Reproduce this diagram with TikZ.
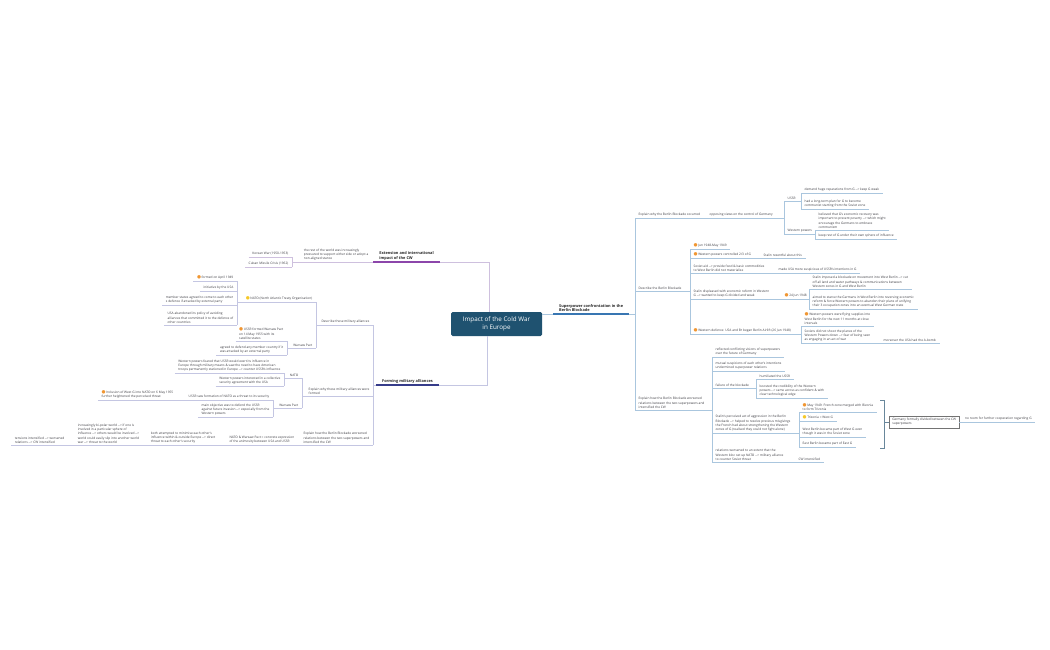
\documentclass[tikz,border=0pt]{standalone}
\usepackage{fontspec}
\setmainfont{Open Sans}
\newfontfamily\symf{DejaVu Sans}
\usepackage{tikz}

\definecolor{rootc}{RGB}{31,82,112}
\definecolor{txt}{RGB}{60,60,66}
\definecolor{blu}{RGB}{56,118,178}
\definecolor{bluln}{RGB}{170,198,222}
\definecolor{pur}{RGB}{140,70,170}
\definecolor{purln}{RGB}{206,192,222}
\definecolor{nav}{RGB}{54,60,138}
\definecolor{navln}{RGB}{196,198,226}
\definecolor{mkor}{RGB}{240,150,50}
\definecolor{mkye}{RGB}{245,200,40}
\definecolor{sumc}{RGB}{105,135,155}

\newcommand{\dto}{-{}->}
\newcommand{\mko}{{\symf\fontsize{4.6}{4}\selectfont\textcolor{mkor}{●}}\,}
\newcommand{\mky}{{\symf\fontsize{4.6}{4}\selectfont\textcolor{mkye}{●}}\,}

\begin{document}
\begin{tikzpicture}[x=1pt,y=-1pt,
    every node/.style={font=\fontsize{3.2}{4.3}\selectfont, text=txt, align=left, inner xsep=3.5pt, inner ysep=1.3pt},
    rt/.style={anchor=south west, append after command={(\tikzlastnode.south west) edge[#1] (\tikzlastnode.south east)}},
    lt/.style={anchor=south east, append after command={(\tikzlastnode.south west) edge[#1] (\tikzlastnode.south east)}},
    bl/.style={draw=bluln, line width=0.6pt},
    pu/.style={draw=purln, line width=0.6pt},
    nv/.style={draw=navln, line width=0.6pt},
    hbl/.style={draw=blu, line width=1.3pt},
    hpu/.style={draw=pur, line width=1.3pt},
    hnv/.style={draw=nav, line width=1.3pt},
    head/.style={font=\fontsize{3.9}{4.9}\selectfont\bfseries, text=black!85, inner xsep=6pt, inner ysep=1.8pt},
    root/.style={fill=rootc, text=white, font=\fontsize{6.3}{8.2}\selectfont, align=center, minimum width=91pt, minimum height=24pt, rounded corners=1.5pt, inner sep=2pt},
    sumbox/.style={draw=black!55, fill=white, line width=0.5pt, inner xsep=3pt, inner ysep=2pt, anchor=west}]
    \useasboundingbox (0,0) rectangle (1050,650);

    % centre
    \node[root] (root) at (496.5,324) {Impact of the Cold War\\in Europe};

    % main branches
    \node[head, rt=hbl] (berlin) at (553,314) {Superpower confrontation in the\\Berlin Blockade};
    \node[head, lt=hpu] (ext) at (440,262) {Extension and international\\impact of the CW};
    \node[head, lt=hnv] (forming) at (439,385) {Forming military alliances};
    \draw[bl] (root.east |- berlin.south west) -- (berlin.south west);
    \draw[pu] ([xshift=-7pt]root.north) |- (ext.south east);
    \draw[nv] ([xshift=-9pt]root.south) |- (forming.south east);

    % Berlin Blockade: why
    \node[rt=bl] (why) at (635,218) {Explain why the Berlin Blockade occurred};
    \node[rt=bl] (opp) at (706,218) {opposing views on the control of Germany};
    \node[rt=bl] (ussr) at (784,201) {USSR};
    \node[rt=bl] (rep) at (801,193) {demand huge reparations from G \dto{} keep G weak};
    \node[rt=bl] (plan) at (801,209) {had a long-term plan for G to become\\communist starting from the Soviet zone};
    \node[rt=bl] (west) at (784,234) {Western powers};
    \node[rt=bl] (recov) at (815,230) {believed that G's economic recovery was\\important to prevent poverty \dto{} which might\\encourage the Germans to embrace\\communism};
    \node[rt=bl] (rest) at (815,239) {keep rest of G under their own sphere of influence};
    \draw[bl] (berlin.south east) -| (why.south west);
    \draw[bl] (why.south east) -| (opp.south west);
    \draw[bl] (opp.south east) -| (ussr.south west);
    \draw[bl] (opp.south east) -| (west.south west);
    \draw[bl] (ussr.south east) -| (rep.south west);
    \draw[bl] (ussr.south east) -| (plan.south west);
    \draw[bl] (west.south east) -| (recov.south west);
    \draw[bl] (west.south east) -| (rest.south west);

    % Berlin Blockade: describe
    \node[rt=bl] (desc) at (635,291) {Describe the Berlin Blockade};
    \node[rt=bl] (jun) at (690,249) {\mko Jun 1948-May 1949};
    \node[rt=bl] (ctrl) at (690,258) {\mko Western powers controlled 2/3 of G};
    \node[rt=bl] (resent) at (760,258) {Stalin resentful about this};
    \node[rt=bl] (aid) at (690,273) {Soviet aid \dto{} provide food \& basic commodities\\to West Berlin did not materialise};
    \node[rt=bl] (susp) at (775,273) {made USA more suspicious of USSR's intentions in G};
    \node[rt=bl] (displ) at (690,299) {Stalin displeased with economic reform in Western\\G \dto{} wanted to keep G divided and weak};
    \node[rt=bl] (jun24) at (781,299) {\mko 24 Jun 1948};
    \node[rt=bl] (block) at (809,289) {Stalin imposed a blockade on movement into West Berlin \dto{} cut\\off all land and water pathways \& communications between\\Western zones in G and West Berlin};
    \node[rt=bl] (starve) at (809,309) {aimed to starve the Germans in West Berlin into reversing economic\\reform \& force Western powers to abandon their plans of unifying\\their 3 occupation zones into an eventual West German state};
    \node[rt=bl] (airlift) at (690,334) {\mko Western defence: USA and Br began Berlin Airlift (26 Jun 1948)};
    \node[rt=bl] (fly) at (801,326) {\mko Western powers were flying supplies into\\West Berlin for the next 11 months at close\\intervals};
    \node[rt=bl] (shoot) at (801,343) {Soviets did not shoot the planes of the\\Western Powers down \dto{} fear of being seen\\as engaging in an act of war};
    \node[rt=bl] (bomb) at (880,343) {moreover the USA had the A-bomb};
    \draw[bl] (berlin.south east) -| (desc.south west);
    \draw[bl] (desc.south east) -| (jun.south west);
    \draw[bl] (desc.south east) -| (ctrl.south west);
    \draw[bl] (desc.south east) -| (aid.south west);
    \draw[bl] (desc.south east) -| (displ.south west);
    \draw[bl] (desc.south east) -| (airlift.south west);
    \draw[bl] (ctrl.south east) -| (resent.south west);
    \draw[bl] (aid.south east) -| (susp.south west);
    \draw[bl] (displ.south east) -| (jun24.south west);
    \draw[bl] (jun24.south east) -| (block.south west);
    \draw[bl] (jun24.south east) -| (starve.south west);
    \draw[bl] (airlift.south east) -| (fly.south west);
    \draw[bl] (airlift.south east) -| (shoot.south west);
    \draw[bl] (shoot.south east) -| (bomb.south west);

    % Berlin Blockade: how
    \node[rt=bl] (how) at (635,410) {Explain how the Berlin Blockade worsened\\relations between the two superpowers and\\intensified the CW};
    \node[rt=bl] (visions) at (712,357) {reflected conflicting visions of superpowers\\over the future of Germany};
    \node[rt=bl] (mutual) at (712,371) {mutual suspicions of each other's intentions\\undermined superpower relations};
    \node[rt=bl] (fail) at (712,388) {failure of the blockade};
    \node[rt=bl] (humil) at (756,379) {humiliated the USSR};
    \node[rt=bl] (boost) at (756,398) {boosted the credibility of the Western\\powers \dto{} came across as confident \& with\\clear technological edge};
    \node[rt=bl] (aggr) at (712,433) {Stalin's perceived act of aggression in the Berlin\\Blockade \dto{} helped to resolve previous misgivings\\the French had about strengthening the Western\\zones of G (realised they could not fight alone)};
    \node[rt=bl] (trizon) at (799,412) {\mko May 1949: French zone merged with Bizonia\\to form Trizonia};
    \node[rt=bl] (triw) at (799,421) {\mky Trizonia = West G};
    \node[rt=bl] (wber) at (799,437) {West Berlin became part of West G even\\though it was in the Soviet zone};
    \node[rt=bl] (eber) at (799,447) {East Berlin became part of East G};
    \node[rt=bl] (relat) at (712,462) {relations worsened to an extent that the\\Western bloc set up NATO \dto{} military alliance\\to counter Soviet threat};
    \node[rt=bl] (cwint) at (795,462) {CW intensified};
    \draw[bl] (berlin.south east) -| (how.south west);
    \draw[bl] (how.south east) -| (visions.south west);
    \draw[bl] (how.south east) -| (mutual.south west);
    \draw[bl] (how.south east) -| (fail.south west);
    \draw[bl] (how.south east) -| (aggr.south west);
    \draw[bl] (how.south east) -| (relat.south west);
    \draw[bl] (fail.south east) -| (humil.south west);
    \draw[bl] (fail.south east) -| (boost.south west);
    \draw[bl] (aggr.south east) -| (trizon.south west);
    \draw[bl] (aggr.south east) -| (triw.south west);
    \draw[bl] (aggr.south east) -| (wber.south west);
    \draw[bl] (aggr.south east) -| (eber.south west);
    \draw[bl] (relat.south east) -| (cwint.south west);

    % summary of the division
    \coordinate (brt) at (884,400);
    \coordinate (brb) at (884,448);
    \node[sumbox] (summ) at (889,422) {Germany formally divided between the CW\\superpowers};
    \node[rt=bl] (noroom) at ([xshift=2pt]summ.east) {no room for further cooperation regarding G};
    \draw[sumc, line width=0.6pt] ([xshift=-4pt]brt) -- (brt) -- (brb) -- ([xshift=-4pt]brb);
    \draw[sumc, line width=0.6pt] (brt |- summ.west) -- (summ.west);
    \draw[bl] (summ.east) -- (noroom.south west);

    % extension and international impact
    \node[lt=pu] (world) at (372,262) {the rest of the world was increasingly\\pressured to support either side or adopt a\\non-aligned stance};
    \node[lt=pu] (korea) at (292,257) {Korean War (1950-1953)};
    \node[lt=pu] (cuba) at (292,267) {Cuban Missile Crisis (1962)};
    \draw[pu] (ext.south west) -| (world.south east);
    \draw[pu] (world.south west) -| (korea.south east);
    \draw[pu] (world.south west) -| (cuba.south east);

    % forming military alliances: describe
    \node[lt=nv] (descm) at (373,325) {Describe these military alliances};
    \node[lt=nv] (nato) at (316,302) {\mky NATO (North Atlantic Treaty Organisation)};
    \node[lt=nv] (formed) at (237,281) {\mko formed on April 1949};
    \node[lt=nv] (init) at (237,291) {initiative by the USA};
    \node[lt=nv] (member) at (237,305) {member states agreed to come to each other\\s defence if attacked by external party};
    \node[lt=nv] (aband) at (237,325) {USA abandoned its policy of avoiding\\alliances that committed it to the defence of\\other countries};
    \node[lt=nv] (wpa) at (316,348) {Warsaw Pact};
    \node[lt=nv] (wpform) at (287,341) {\mko USSR formed Warsaw Pact\\on 14 May 1955 with its\\satellite states};
    \node[lt=nv] (defend) at (287,355) {agreed to defend any member country if it\\was attacked by an external party};
    \draw[nv] (forming.south west) -| (descm.south east);
    \draw[nv] (descm.south west) -| (nato.south east);
    \draw[nv] (descm.south west) -| (wpa.south east);
    \draw[nv] (nato.south west) -| (formed.south east);
    \draw[nv] (nato.south west) -| (init.south east);
    \draw[nv] (nato.south west) -| (member.south east);
    \draw[nv] (nato.south west) -| (aband.south east);
    \draw[nv] (wpa.south west) -| (wpform.south east);
    \draw[nv] (wpa.south west) -| (defend.south east);

    % forming military alliances: why
    \node[lt=nv] (whym) at (373,396) {Explain why these military alliances were\\formed};
    \node[lt=nv] (natob) at (302,378) {NATO};
    \node[lt=nv] (feared) at (284,373) {Western powers feared that USSR would exert its influence in\\Europe through military means \& saw the need to have American\\troops permanently stationed in Europe \dto{} counter USSR's influence};
    \node[lt=nv] (collect) at (284,386) {Western powers interested in a collective\\security agreement with the USA};
    \node[lt=nv] (wpb) at (302,408) {Warsaw Pact};
    \node[lt=nv] (threat) at (273,400) {USSR saw formation of NATO as a threat to its security};
    \node[lt=nv] (incl) at (177,400) {\mko Inclusion of West G into NATO on 6 May 1955\\further heightened the perceived threat};
    \node[lt=nv] (object) at (273,417) {main objective was to defend the USSR\\against future invasion \dto{} especially from the\\Western powers};
    \draw[nv] (forming.south west) -| (whym.south east);
    \draw[nv] (whym.south west) -| (natob.south east);
    \draw[nv] (whym.south west) -| (wpb.south east);
    \draw[nv] (natob.south west) -| (feared.south east);
    \draw[nv] (natob.south west) -| (collect.south east);
    \draw[nv] (wpb.south west) -| (threat.south east);
    \draw[nv] (wpb.south west) -| (object.south east);
    \draw[nv] (threat.south west) -| (incl.south east);

    % forming military alliances: how
    \node[lt=nv] (howm) at (373,445) {Explain how the Berlin Blockade worsened\\relations between the two superpowers and\\intensified the CW};
    \node[lt=nv] (concr) at (298,445) {NATO \& Warsaw Pact = concrete expression\\of the animosity between USA and USSR};
    \node[lt=nv] (minim) at (219,445) {both attempted to minimise each other's\\influence within \& outside Europe \dto{} direct\\threat to each other's security};
    \node[lt=nv] (bipol) at (143,445) {increasingly bi-polar world \dto{} if one is\\involved in a particular sphere of\\influence \dto{} others would be involved \dto{}\\world could easily slip into another world\\war \dto{} threat to the world};
    \node[lt=nv] (tens) at (68,445) {tensions intensified \dto{} worsened\\relations \dto{} CW intensified};
    \draw[nv] (forming.south west) -| (howm.south east);
    \draw[nv] (howm.south west) -| (concr.south east);
    \draw[nv] (concr.south west) -| (minim.south east);
    \draw[nv] (minim.south west) -| (bipol.south east);
    \draw[nv] (bipol.south west) -| (tens.south east);
\end{tikzpicture}
\end{document}
